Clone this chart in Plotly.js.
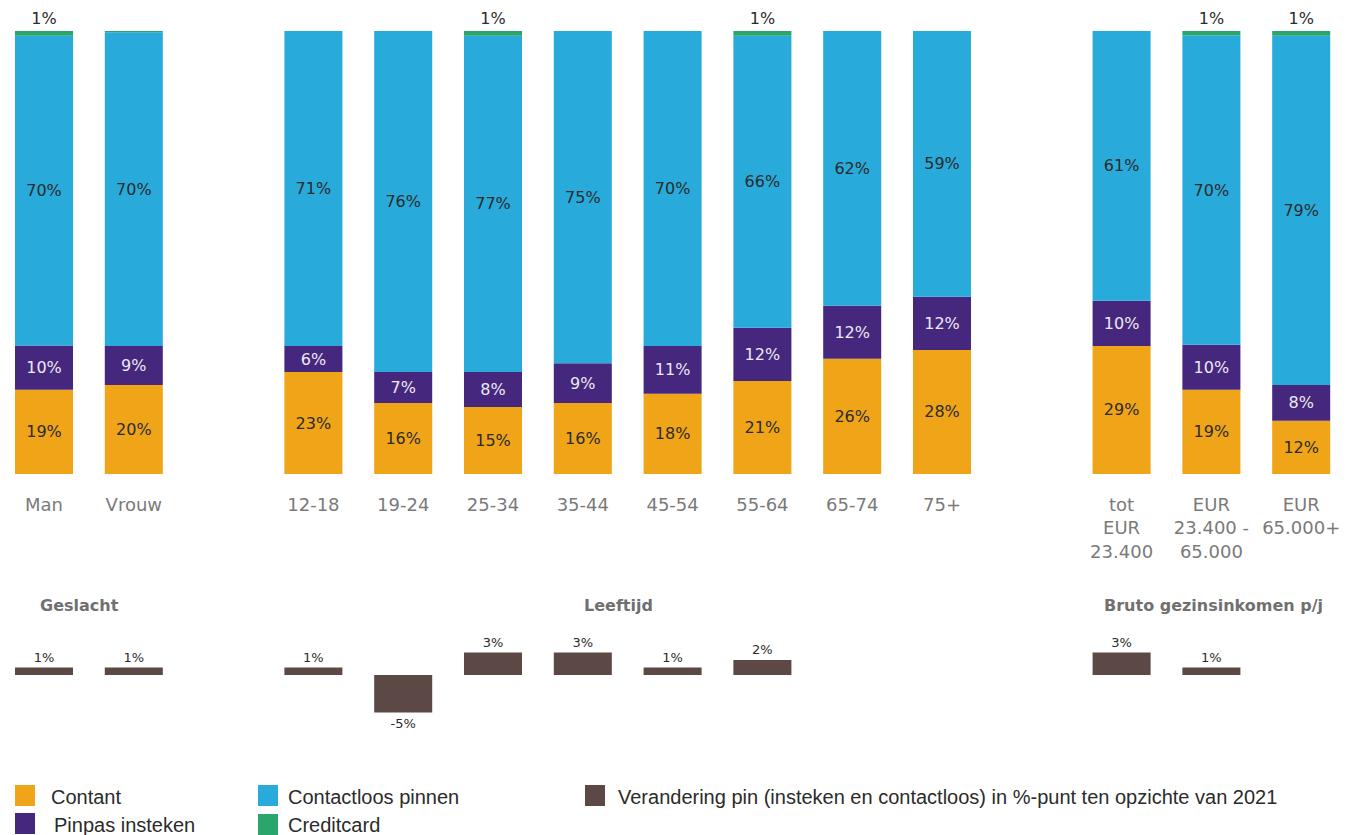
<!DOCTYPE html>
<html>
<head>
<meta charset="utf-8">
<script src="https://cdn.plot.ly/plotly-3.0.1.min.js"></script>
<style>
  html, body { margin: 0; padding: 0; background: #ffffff; }
  #chart { width: 1354px; height: 835px; }
</style>
</head>
<body>
<div id="chart"></div>
<script>
// ---------------- DATA ----------------
const groupNames = ['Geslacht', 'Leeftijd', 'Bruto gezinsinkomen p/j'];
const groupSizes = [2, 8, 3];
const categories = ['Man', 'Vrouw', '12-18', '19-24', '25-34', '35-44', '45-54', '55-64', '65-74', '75+',
                    'tot EUR 23.400', 'EUR 23.400 - 65.000', 'EUR 65.000+'];
const tickLabels = ['Man', 'Vrouw', '12-18', '19-24', '25-34', '35-44', '45-54', '55-64', '65-74', '75+',
                    'tot<br>EUR<br>23.400', 'EUR<br>23.400 -<br>65.000', 'EUR<br>65.000+'];

// segment sizes (share in %)
const contant     = [19.0, 20.1, 23.0, 16.0, 15.1, 16.0, 18.1, 21.0, 26.0, 28.0, 28.9, 19.0, 12.0];
const pinpas      = [10.0,  8.8,  5.9,  7.0,  7.9,  9.0, 10.8, 12.0, 12.0, 12.0, 10.2, 10.2,  8.1];
const contactloos = [69.9, 70.8, 71.1, 77.0, 75.9, 75.0, 71.1, 65.9, 62.0, 60.0, 60.9, 69.8, 78.8];
const creditcard  = [ 1.1,  0.3,  0.0,  0.0,  1.1,  0.0,  0.0,  1.1,  0.0,  0.0,  0.0,  1.0,  1.1];

// printed labels (%)
const contantLabels     = [19, 20, 23, 16, 15, 16, 18, 21, 26, 28, 29, 19, 12];
const pinpasLabels      = [10,  9,  6,  7,  8,  9, 11, 12, 12, 12, 10, 10,  8];
const contactloosLabels = [70, 70, 71, 76, 77, 75, 70, 66, 62, 59, 61, 70, 79];
const creditcardLabels  = [ 1, null, null, null, 1, null, null, 1, null, null, null, 1, 1];

// change in pin usage (insteken + contactloos), %-point vs 2021
const verandering = [1, 1, 1, -5, 3, 3, 1, 2, null, null, 3, 1, null];

const seriesNames = ['Contant', 'Pinpas insteken', 'Contactloos pinnen', 'Creditcard',
                     'Verandering pin (insteken en contactloos) in %-punt ten opzichte van 2021'];

// ---------------- STYLE ----------------
const COLORS = {
  contant: '#F0A417',
  pinpas: '#45287E',
  contactloos: '#28AADB',
  creditcard: '#2BA66B',
  verandering: '#5C4845'
};
const W = 1354, H = 835;
const px = x => x / W;
const py = y => 1 - y / H;
const SLOT = 89.8, FIRST = 44;         // pixel spacing of category slots
const labelFont = { family: 'DejaVu Sans', size: 16, color: '#2b2b2b' };

// slot positions: one empty slot between groups
const xPos = [];
(function () {
  let slot = 0;
  groupSizes.forEach((n) => {
    for (let i = 0; i < n; i++) xPos.push(slot++);
    slot++;
  });
})();
const groupCenters = [];
(function () {
  let k = 0;
  groupSizes.forEach(n => {
    groupCenters.push((xPos[k] + xPos[k + n - 1]) / 2);
    k += n;
  });
})();

const pct = arr => arr.map(v => (v === null ? '' : v + '%'));

function stackTrace(name, values, labels, color, textColor, pos) {
  return {
    type: 'bar', name: name, x: xPos, y: values,
    text: pct(labels), textposition: pos || 'inside', insidetextanchor: 'middle',
    textangle: 0, constraintext: 'none', cliponaxis: false,
    insidetextfont: Object.assign({}, labelFont, { color: textColor }),
    outsidetextfont: Object.assign({}, labelFont, { color: textColor }),
    marker: { color: color, line: { width: 0 } },
    hoverinfo: 'skip', showlegend: false, xaxis: 'x', yaxis: 'y'
  };
}

const traces = [
  stackTrace(seriesNames[0], contant, contantLabels, COLORS.contant, '#2b2b2b'),
  stackTrace(seriesNames[1], pinpas, pinpasLabels, COLORS.pinpas, '#ECE9F3'),
  stackTrace(seriesNames[2], contactloos, contactloosLabels, COLORS.contactloos, '#2b2b2b'),
  stackTrace(seriesNames[3], creditcard, creditcardLabels, COLORS.creditcard, '#2b2b2b', 'outside'),
  {
    type: 'bar', name: seriesNames[4], x: xPos, y: verandering,
    text: pct(verandering), textposition: 'outside', textangle: 0, constraintext: 'none',
    cliponaxis: false,
    outsidetextfont: { family: 'DejaVu Sans', size: 13, color: '#2b2b2b' },
    marker: { color: COLORS.verandering, line: { width: 0 } },
    hoverinfo: 'skip', showlegend: false, xaxis: 'x2', yaxis: 'y2'
  }
];

const xRange = [-FIRST / SLOT, (W - FIRST) / SLOT];

const annotations = [];
const titleShift = [-9, -9, 2];
groupNames.forEach((g, i) => {
  annotations.push({
    xref: 'x', yref: 'paper', x: groupCenters[i], y: py(605), xshift: titleShift[i],
    text: '<b>' + g + '</b>', showarrow: false, xanchor: 'center', yanchor: 'middle',
    font: { family: 'DejaVu Sans', size: 16, color: '#707070' }
  });
});

// custom legend (square swatches + text)
const legendItems = [
  { name: seriesNames[0], color: COLORS.contant,     sx: 15,  sy: 785, tx: 49,  ty: 797 },
  { name: seriesNames[1], color: COLORS.pinpas,      sx: 15,  sy: 813, tx: 52,  ty: 825 },
  { name: seriesNames[2], color: COLORS.contactloos, sx: 258, sy: 785, tx: 286, ty: 797 },
  { name: seriesNames[3], color: COLORS.creditcard,  sx: 258, sy: 814, tx: 286, ty: 825 },
  { name: seriesNames[4], color: COLORS.verandering, sx: 585, sy: 785, tx: 616, ty: 797 }
];
const shapes = [];
legendItems.forEach(it => {
  shapes.push({
    type: 'rect', xref: 'paper', yref: 'paper',
    x0: px(it.sx), x1: px(it.sx + 20), y0: py(it.sy + 21), y1: py(it.sy),
    fillcolor: it.color, line: { width: 0 }
  });
  annotations.push({
    xref: 'paper', yref: 'paper', x: px(it.tx), y: py(it.ty),
    text: it.name, showarrow: false, xanchor: 'left', yanchor: 'middle',
    font: { family: 'Liberation Sans', size: 20, color: '#2b2b2b' }
  });
});

const layout = {
  width: W, height: H,
  margin: { l: 0, r: 0, t: 0, b: 0, pad: 0 },
  paper_bgcolor: '#ffffff', plot_bgcolor: '#ffffff',
  barmode: 'relative', bargap: 0.354,
  showlegend: false,
  xaxis: {
    domain: [0, 1], range: xRange, anchor: 'y',
    tickmode: 'array', tickvals: xPos, ticktext: tickLabels,
    ticks: '', showgrid: false, zeroline: false, showline: false,
    ticklabelstandoff: 18,
    tickfont: { family: 'DejaVu Sans', size: 18, color: '#7a7a7a' }
  },
  yaxis: {
    domain: [py(474), py(31)], range: [0, 100], anchor: 'x', visible: false, fixedrange: true
  },
  xaxis2: {
    domain: [0, 1], range: xRange, anchor: 'y2', visible: false
  },
  yaxis2: {
    domain: [py(735), py(640)], range: [-8, 4.667], anchor: 'x2', visible: false
  },
  annotations: annotations,
  shapes: shapes,
  font: { family: 'DejaVu Sans' }
};

Plotly.newPlot('chart', traces, layout, { displayModeBar: false, staticPlot: true });
</script>
</body>
</html>
